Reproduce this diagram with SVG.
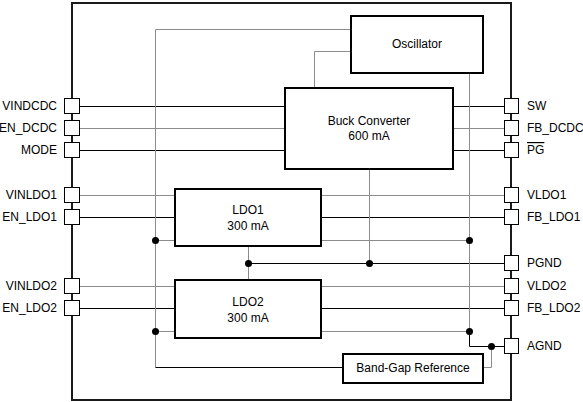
<svg xmlns="http://www.w3.org/2000/svg" width="583" height="402" viewBox="0 0 583 402">
<style>
text{font-family:"Liberation Sans",Arial,sans-serif;font-size:12px;fill:#000}
.box{fill:#fff;stroke:#000;stroke-width:2}
.pin{fill:#fff;stroke:#000;stroke-width:1}
.k{stroke:#000;stroke-width:1;fill:none}
.g{stroke:#8c8c8c;stroke-width:1;fill:none}
.dot{fill:#000}
.l{text-anchor:end}
.c{text-anchor:middle}
</style>
<rect width="583" height="402" fill="#fff"/>
<rect id="chip" x="72" y="3" width="439" height="397" fill="none" stroke="#1a1a1a" stroke-width="2"/>
<g id="connectors">
<path class="k" d="M79.5,106.5H284M79.5,150.5H284M79.5,217.5H174M79.5,308.5H174"/>
<path class="k" d="M454,106.5H504M454,150.5H504M322,217.5H504M248,263.5H504M322,308.5H504"/>
<path class="g" d="M79.5,128.5H284M79.5,195.5H174M79.5,286.5H174M454,128.5H504M322,195.5H504M322,286.5H504"/>
<path class="g" d="M155.5,240.5H174M322,240.5H469.5M155.5,331.5H174M322,331.5H469.5"/>
<path class="g" d="M351,29.5H155.5V367.5"/>
<path class="k" d="M155.5,367.5H343"/>
<path class="g" d="M351,51.5H314.5V87"/>
<path class="g" d="M469.5,73V331.5"/>
<path class="g" d="M369.5,169V263.5"/>
<path class="g" d="M248.5,247V279"/>
<path class="k" d="M469.5,331.5V346.5H504"/>
<path class="g" d="M491.5,346.5V367.5H483" stroke="#555"/>
<circle class="dot" cx="155.5" cy="240.5" r="3.5"/>
<circle class="dot" cx="155.5" cy="331.5" r="3.5"/>
<circle class="dot" cx="469.5" cy="240.5" r="3.5"/>
<circle class="dot" cx="469.5" cy="331.5" r="3.5"/>
<circle class="dot" cx="248.5" cy="263.5" r="3.5"/>
<circle class="dot" cx="369.5" cy="263.5" r="3.5"/>
<circle class="dot" cx="491.5" cy="346.5" r="3.5"/>
</g>
<g id="oscillator"><rect class="box" x="351" y="16" width="132" height="57"/><text class="c" x="417" y="48">Oscillator</text></g>
<g id="buck"><rect class="box" x="285" y="88" width="168" height="81"/><text class="c" x="369" y="125">Buck Converter</text><text class="c" x="369" y="140">600 mA</text></g>
<g id="ldo1"><rect class="box" x="175" y="189" width="146" height="57"/><text class="c" x="248" y="214">LDO1</text><text class="c" x="248" y="230">300 mA</text></g>
<g id="ldo2"><rect class="box" x="175" y="280" width="146" height="58"/><text class="c" x="248" y="306">LDO2</text><text class="c" x="248" y="322">300 mA</text></g>
<g id="bandgap"><rect class="box" x="343" y="354" width="140" height="29"/><text class="c" x="413" y="372">Band-Gap Reference</text></g>
<g id="pin-vindcdc"><rect class="pin" x="64.5" y="98.5" width="15" height="15"/><text class="l" x="57" y="110">VINDCDC</text></g>
<g id="pin-en_dcdc"><rect class="pin" x="64.5" y="120.5" width="15" height="15"/><text class="l" x="57" y="132">EN_DCDC</text></g>
<g id="pin-mode"><rect class="pin" x="64.5" y="142.5" width="15" height="15"/><text class="l" x="57" y="154">MODE</text></g>
<g id="pin-vinldo1"><rect class="pin" x="64.5" y="187.5" width="15" height="15"/><text class="l" x="57" y="199">VINLDO1</text></g>
<g id="pin-en_ldo1"><rect class="pin" x="64.5" y="209.5" width="15" height="15"/><text class="l" x="57" y="221">EN_LDO1</text></g>
<g id="pin-vinldo2"><rect class="pin" x="64.5" y="278.5" width="15" height="15"/><text class="l" x="57" y="290">VINLDO2</text></g>
<g id="pin-en_ldo2"><rect class="pin" x="64.5" y="300.5" width="15" height="15"/><text class="l" x="57" y="312">EN_LDO2</text></g>
<g id="pin-sw"><rect class="pin" x="504.5" y="98.5" width="14" height="15"/><text x="527" y="110">SW</text></g>
<g id="pin-fb_dcdc"><rect class="pin" x="504.5" y="120.5" width="14" height="15"/><text x="527" y="132">FB_DCDC</text></g>
<g id="pin-pg"><rect class="pin" x="504.5" y="142.5" width="14" height="15"/><text x="527" y="154" text-decoration="overline">PG</text></g>
<g id="pin-vldo1"><rect class="pin" x="504.5" y="187.5" width="14" height="15"/><text x="527" y="199">VLDO1</text></g>
<g id="pin-fb_ldo1"><rect class="pin" x="504.5" y="209.5" width="14" height="15"/><text x="527" y="221">FB_LDO1</text></g>
<g id="pin-pgnd"><rect class="pin" x="504.5" y="255.5" width="14" height="15"/><text x="527" y="267">PGND</text></g>
<g id="pin-vldo2"><rect class="pin" x="504.5" y="278.5" width="14" height="15"/><text x="527" y="290">VLDO2</text></g>
<g id="pin-fb_ldo2"><rect class="pin" x="504.5" y="300.5" width="14" height="15"/><text x="527" y="312">FB_LDO2</text></g>
<g id="pin-agnd"><rect class="pin" x="504.5" y="338.5" width="14" height="15"/><text x="527" y="350">AGND</text></g>
</svg>
